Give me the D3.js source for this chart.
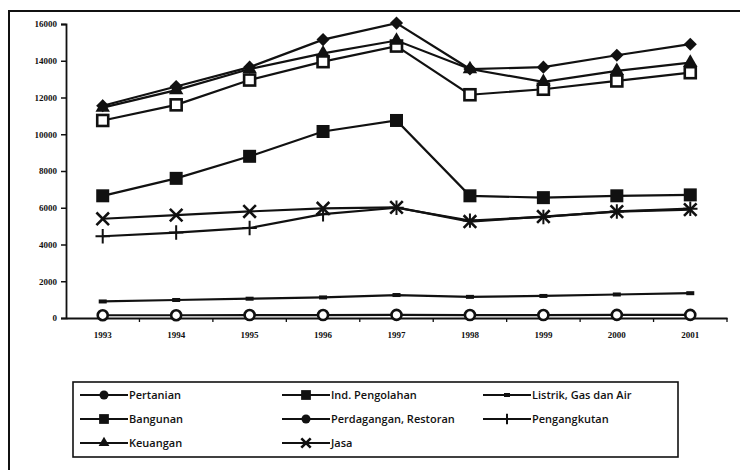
<!DOCTYPE html>
<html>
<head>
<meta charset="utf-8">
<script src="https://cdn.jsdelivr.net/npm/d3@7"></script>
<style>
  body { margin: 0; background: #fff; }
  svg { display: block; }
  .tick text { font-family: "Liberation Serif", serif; font-weight: bold; font-size: 9px; fill: #111; }
  .legend text { font-family: "Open Sans", sans-serif; font-weight: 600; font-size: 11px; fill: #111; }
</style>
</head>
<body>
<svg width="740" height="470"></svg>
<script>
"use strict";
let years = ["1993", "1994", "1995", "1996", "1997", "1998", "1999", "2000", "2001"];
let yTicks = [0, 2000, 4000, 6000, 8000, 10000, 12000, 14000, 16000];

// series values
let pertanian     = [150, 150, 160, 160, 170, 160, 160, 170, 170];
let indPengolahan = [10750, 11600, 12950, 13950, 14800, 12150, 12450, 12900, 13350];
let listrik       = [900, 980, 1050, 1120, 1250, 1150, 1200, 1280, 1350];
let bangunan      = [6650, 7600, 8800, 10150, 10750, 6650, 6550, 6650, 6700];
let perdagangan   = [11550, 12600, 13650, 15150, 16050, 13550, 13650, 14300, 14900];
let pengangkutan  = [4450, 4650, 4900, 5650, 6000, 5300, 5500, 5800, 5950];
let keuangan      = [11450, 12400, 13550, 14400, 15100, 13550, 12850, 13450, 13900];
let jasa          = [5400, 5600, 5800, 5970, 6020, 5250, 5520, 5790, 5900];

let series = [
    { name: "Pertanian", values: pertanian, marker: "circle" },
    { name: "Ind. Pengolahan", values: indPengolahan, marker: "openSquare" },
    { name: "Listrik, Gas dan Air", values: listrik, marker: "dash" },
    { name: "Bangunan", values: bangunan, marker: "square" },
    { name: "Perdagangan, Restoran", values: perdagangan, marker: "diamond" },
    { name: "Pengangkutan", values: pengangkutan, marker: "plus" },
    { name: "Keuangan", values: keuangan, marker: "triangle" },
    { name: "Jasa", values: jasa, marker: "cross" }
];

let svg = d3.select("svg"),
    plotLeft = 66, plotRight = 727, plotTop = 24, plotBottom = 318;

// scanned page frame
svg.append("path")
    .attr("d", "M9,470 L9,11 L740,11")
    .attr("fill", "none").attr("stroke", "#111").attr("stroke-width", 2);

let x = d3.scaleBand().domain(years).range([plotLeft, plotRight]).padding(0);
let y = d3.scaleLinear().domain([0, 16000]).range([plotBottom, plotTop]);
let cx = d => x(d) + x.bandwidth() / 2;

// y axis
let yAxis = svg.append("g")
    .attr("transform", "translate(" + plotLeft + ",0)")
    .call(d3.axisLeft(y).tickValues(yTicks).tickSize(5).tickPadding(4).tickFormat(d3.format("d")));
yAxis.select(".domain").attr("stroke", "#111").attr("stroke-width", 1.8);
yAxis.selectAll(".tick line").attr("stroke", "#111").attr("stroke-width", 1.5);

// x axis, ticks between categories
let xAxis = svg.append("g")
    .attr("transform", "translate(0," + plotBottom + ")")
    .call(d3.axisBottom(x).tickSize(0).tickPadding(14));
xAxis.select(".domain").attr("stroke", "#111").attr("stroke-width", 1.8);
xAxis.selectAll(".bound")
    .data(years)
    .enter().append("line")
    .attr("x1", d => x(d) + x.bandwidth()).attr("x2", d => x(d) + x.bandwidth())
    .attr("y1", 0).attr("y2", 4)
    .attr("stroke", "#111").attr("stroke-width", 1.3);

function drawMarker(sel, type, s) {
    let k = s || 1;
    if (type === "circle") {
        sel.append("circle").attr("r", 5 * k)
            .attr("fill", "#fff").attr("stroke", "#111").attr("stroke-width", 2.6 * k);
    } else if (type === "square") {
        sel.append("rect").attr("x", -6.5 * k).attr("y", -6.5 * k)
            .attr("width", 13 * k).attr("height", 13 * k).attr("fill", "#111");
    } else if (type === "openSquare") {
        sel.append("rect").attr("x", -5.5 * k).attr("y", -5.5 * k)
            .attr("width", 11 * k).attr("height", 11 * k)
            .attr("fill", "#fff").attr("stroke", "#111").attr("stroke-width", 2.6 * k);
    } else if (type === "diamond") {
        sel.append("path").attr("d", d3.symbol(d3.symbolDiamond2, 110 * k * k))
            .attr("fill", "#111");
    } else if (type === "triangle") {
        sel.append("path").attr("d", d3.symbol(d3.symbolTriangle, 90 * k * k))
            .attr("fill", "#111");
    } else if (type === "plus") {
        sel.append("path").attr("d", d3.symbol(d3.symbolPlus, 70 * k * k))
            .attr("fill", "none").attr("stroke", "#111").attr("stroke-width", 2);
    } else if (type === "cross") {
        sel.append("path").attr("d", d3.symbol(d3.symbolX, 105 * k * k))
            .attr("fill", "none").attr("stroke", "#111").attr("stroke-width", 2.6);
    } else if (type === "dash") {
        sel.append("rect").attr("x", -4 * k).attr("y", -2)
            .attr("width", 8 * k).attr("height", 4).attr("fill", "#111");
    }
}

let line = d3.line()
    .x((d, i) => cx(years[i]))
    .y(d => y(d));

let plot = svg.append("g");
series.forEach(function(s) {
    let g = plot.append("g");
    g.append("path")
        .attr("d", line(s.values))
        .attr("fill", "none").attr("stroke", "#111").attr("stroke-width", 2.2);
    g.selectAll(".pt")
        .data(s.values)
        .enter().append("g")
        .attr("transform", (d, i) => "translate(" + cx(years[i]) + "," + y(d) + ")")
        .each(function() { drawMarker(d3.select(this), s.marker, 1); });
});

// legend
let legend = svg.append("g").attr("class", "legend");
legend.append("rect")
    .attr("x", 73).attr("y", 382).attr("width", 605).attr("height", 75)
    .attr("fill", "#fff").attr("stroke", "#111").attr("stroke-width", 1.6);
let colX = [80, 282, 483], rowY = [395, 419, 443];
series.forEach(function(s, i) {
    let lx = colX[i % 3], ly = rowY[Math.floor(i / 3)];
    let item = legend.append("g").attr("transform", "translate(" + lx + "," + ly + ")");
    item.append("line").attr("x1", 0).attr("x2", 48).attr("y1", 0).attr("y2", 0)
        .attr("stroke", "#111").attr("stroke-width", 2);
    let m = item.append("g").attr("transform", "translate(24,0)");
    if (s.marker === "circle" || s.marker === "diamond") {
        m.append("circle").attr("r", 4.5).attr("fill", "#111");
    } else {
        drawMarker(m, s.marker === "openSquare" ? "square" : s.marker, 0.75);
    }
    item.append("text").attr("x", 49).attr("y", 4).text(s.name);
});
</script>
</body>
</html>
